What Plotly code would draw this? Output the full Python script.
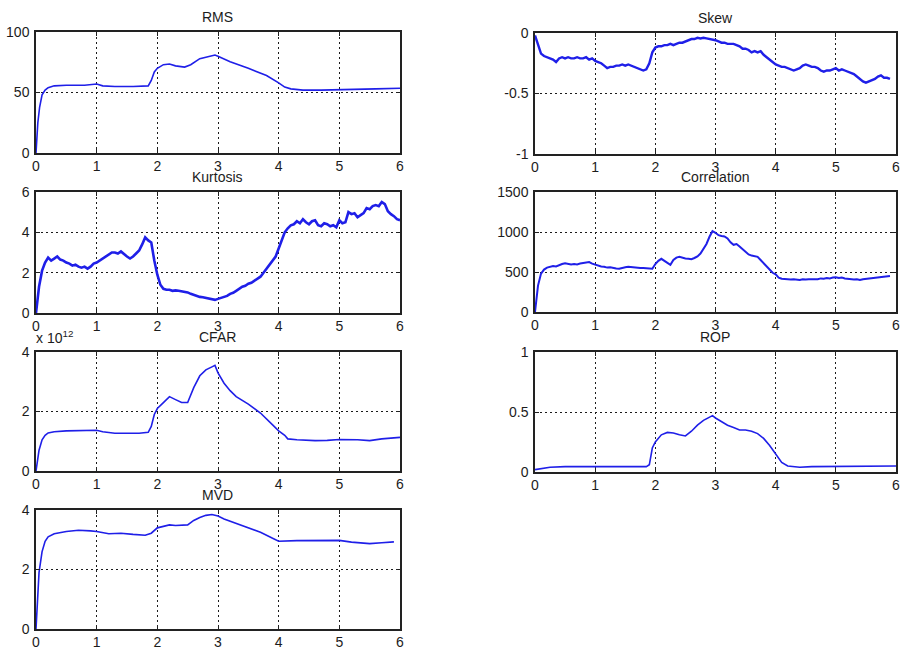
import plotly.graph_objects as go

# ---------------------------------------------------------------------------
# Data (time axis 0..6, seven drilling/vibration features)
# ---------------------------------------------------------------------------

# shared 0.05-step sample grid used by the noisier features
t05 = [0.00, 0.05, 0.10, 0.15, 0.20, 0.25, 0.30, 0.35, 0.40, 0.45,
       0.50, 0.55, 0.60, 0.65, 0.70, 0.75, 0.80, 0.85, 0.90, 0.95,
       1.00, 1.05, 1.10, 1.15, 1.20, 1.25, 1.30, 1.35, 1.40, 1.45,
       1.50, 1.55, 1.60, 1.65, 1.70, 1.75, 1.80, 1.85, 1.90, 1.95,
       2.00, 2.05, 2.10, 2.15, 2.20, 2.25, 2.30, 2.35, 2.40, 2.45,
       2.50, 2.55, 2.60, 2.65, 2.70, 2.75, 2.80, 2.85, 2.90, 2.95,
       3.00, 3.05, 3.10, 3.15, 3.20, 3.25, 3.30, 3.35, 3.40, 3.45,
       3.50, 3.55, 3.60, 3.65, 3.70, 3.75, 3.80, 3.85, 3.90, 3.95,
       4.00, 4.05, 4.10, 4.15, 4.20, 4.25, 4.30, 4.35, 4.40, 4.45,
       4.50, 4.55, 4.60, 4.65, 4.70, 4.75, 4.80, 4.85, 4.90, 4.95,
       5.00, 5.05, 5.10, 5.15, 5.20, 5.25, 5.30, 5.35, 5.40, 5.45,
       5.50, 5.55, 5.60, 5.65, 5.70, 5.75, 5.80, 5.85, 5.90, 5.95,
       6.00]

rms_t = [0, 0.03, 0.06, 0.10, 0.15, 0.20, 0.30, 0.50, 0.80, 1.00, 1.10, 1.30,
         1.60, 1.85, 1.90, 1.95, 2.00, 2.10, 2.20, 2.30, 2.45, 2.55, 2.70,
         2.85, 2.95, 3.00, 3.20, 3.50, 3.80, 4.00, 4.10, 4.20, 4.40, 4.70,
         5.00, 5.30, 5.60, 6.00]
rms = [0, 25, 38, 48, 52, 54, 55.5, 56, 56, 57, 55.5, 55,
       55, 55.5, 60, 67, 70, 73, 73.5, 72, 71, 73, 78,
       79.5, 81, 80, 75.5, 70, 64, 58, 54.5, 53, 52, 52,
       52.5, 52.5, 53, 53.5]

skew = [-0.02, -0.10, -0.17, -0.19, -0.20, -0.21, -0.22, -0.24, -0.21, -0.20,
        -0.21, -0.20, -0.21, -0.21, -0.20, -0.21, -0.21, -0.20, -0.22, -0.21,
        -0.23, -0.24, -0.25, -0.27, -0.29, -0.28, -0.28, -0.27, -0.27, -0.26,
        -0.27, -0.26, -0.27, -0.28, -0.29, -0.30, -0.31, -0.30, -0.25, -0.16,
        -0.12, -0.11, -0.11, -0.10, -0.10, -0.09, -0.10, -0.09, -0.08, -0.08,
        -0.07, -0.06, -0.05, -0.05, -0.04, -0.045, -0.04, -0.045, -0.05, -0.05,
        -0.06, -0.07, -0.08, -0.08, -0.09, -0.09, -0.09, -0.10, -0.11, -0.13,
        -0.13, -0.14, -0.16, -0.15, -0.16, -0.15, -0.18, -0.20, -0.22, -0.24,
        -0.26, -0.27, -0.28, -0.28, -0.29, -0.30, -0.31, -0.30, -0.29, -0.27,
        -0.26, -0.27, -0.28, -0.28, -0.29, -0.31, -0.32, -0.31, -0.31, -0.30,
        -0.29, -0.31, -0.30, -0.31, -0.32, -0.33, -0.34, -0.36, -0.38, -0.40,
        -0.41, -0.40, -0.39, -0.38, -0.36, -0.35, -0.37, -0.37, -0.38]

kurtosis = [0.0, 1.3, 2.1, 2.5, 2.75, 2.6, 2.7, 2.8, 2.65, 2.6,
            2.5, 2.45, 2.35, 2.4, 2.3, 2.25, 2.3, 2.2, 2.3, 2.45,
            2.5, 2.6, 2.7, 2.8, 2.9, 3.0, 3.0, 2.95, 3.05, 2.9,
            2.8, 2.7, 2.8, 2.95, 3.1, 3.4, 3.75, 3.6, 3.5, 2.6,
            1.9, 1.4, 1.2, 1.15, 1.15, 1.1, 1.12, 1.1, 1.08, 1.05,
            1.02, 0.95, 0.9, 0.82, 0.8, 0.78, 0.75, 0.72, 0.7, 0.65,
            0.7, 0.75, 0.8, 0.85, 0.95, 1.0, 1.1, 1.2, 1.3, 1.35,
            1.45, 1.5, 1.6, 1.7, 1.8, 2.0, 2.2, 2.35, 2.6, 2.8,
            3.2, 3.6, 4.0, 4.2, 4.35, 4.4, 4.55, 4.45, 4.65, 4.5,
            4.4, 4.55, 4.6, 4.35, 4.3, 4.45, 4.4, 4.3, 4.35, 4.25,
            4.6, 4.45, 4.5, 5.0, 4.9, 4.95, 4.75, 4.85, 4.95, 5.2,
            5.15, 5.3, 5.35, 5.3, 5.5, 5.4, 5.05, 4.9, 4.8, 4.65,
            4.6]

correlation = [0, 330, 480, 530, 555, 565, 575, 570, 590, 600,
               610, 600, 595, 600, 595, 605, 610, 615, 625, 605,
               590, 580, 570, 565, 555, 560, 550, 545, 540, 555,
               560, 565, 560, 555, 555, 550, 550, 548, 545, 540,
               600, 640, 665, 640, 610, 590, 650, 680, 690, 675,
               670, 665, 660, 675, 695, 730, 790, 850, 940, 1010,
               990, 960, 950, 945, 920, 870, 840, 850, 820, 790,
               750, 720, 705, 700, 690, 650, 610, 570, 530, 490,
               470, 430, 415, 410, 410, 405, 410, 405, 400, 410,
               405, 410, 410, 415, 410, 420, 415, 425, 420, 430,
               435, 425, 430, 420, 415, 410, 405, 410, 400, 410,
               415, 420, 420, 430, 430, 440, 440, 445, 450]

cfar_t = [0, 0.05, 0.10, 0.15, 0.20, 0.30, 0.50, 0.70, 0.90, 1.00, 1.10, 1.30,
          1.50, 1.70, 1.85, 1.90, 1.95, 2.00, 2.10, 2.20, 2.30, 2.40, 2.50,
          2.60, 2.70, 2.80, 2.90, 2.95, 3.00, 3.10, 3.20, 3.30, 3.50, 3.70,
          3.90, 4.00, 4.10, 4.15, 4.30, 4.60, 4.80, 5.00, 5.30, 5.50, 5.70,
          6.00]
cfar_e12 = [0, 0.7, 1.05, 1.2, 1.28, 1.32, 1.35, 1.36, 1.38, 1.37, 1.32, 1.27,
            1.27, 1.27, 1.3, 1.5, 1.9, 2.1, 2.3, 2.5, 2.4, 2.3, 2.3,
            2.8, 3.2, 3.4, 3.5, 3.55, 3.3, 2.95, 2.7, 2.5, 2.25, 1.95,
            1.55, 1.35, 1.2, 1.08, 1.05, 1.02, 1.03, 1.06, 1.05, 1.02, 1.08,
            1.13]

rop_t = [0, 0.10, 0.25, 0.50, 1.00, 1.50, 1.85, 1.90, 1.95, 2.00, 2.10, 2.20,
         2.30, 2.40, 2.50, 2.60, 2.70, 2.80, 2.90, 2.95, 3.00, 3.10, 3.20,
         3.30, 3.40, 3.50, 3.60, 3.70, 3.80, 3.90, 4.00, 4.10, 4.20, 4.40,
         4.60, 5.00, 5.50, 5.80, 6.00]
rop = [0.02, 0.03, 0.04, 0.045, 0.045, 0.045, 0.045, 0.06, 0.2, 0.25, 0.31, 0.33,
       0.325, 0.31, 0.30, 0.34, 0.39, 0.43, 0.46, 0.47, 0.45, 0.42, 0.39,
       0.37, 0.35, 0.35, 0.34, 0.32, 0.28, 0.22, 0.15, 0.08, 0.05, 0.04,
       0.045, 0.045, 0.045, 0.05, 0.05]

mvd_t = [0, 0.02, 0.05, 0.10, 0.15, 0.20, 0.30, 0.50, 0.70, 0.90, 1.00, 1.20,
         1.40, 1.60, 1.80, 1.90, 2.00, 2.20, 2.30, 2.50, 2.60, 2.70, 2.80,
         2.90, 3.00, 3.10, 3.30, 3.50, 3.70, 3.90, 4.00, 4.30, 4.60, 5.00,
         5.20, 5.50, 5.70, 5.90]
mvd = [0, 0.8, 1.9, 2.6, 2.95, 3.1, 3.2, 3.28, 3.32, 3.3, 3.28, 3.2,
       3.22, 3.18, 3.15, 3.22, 3.4, 3.5, 3.48, 3.5, 3.65, 3.75, 3.82,
       3.85, 3.8, 3.7, 3.55, 3.42, 3.25, 3.05, 2.95, 2.97, 2.98, 2.98,
       2.92, 2.87, 2.9, 2.93]

x_ticks = [0, 1, 2, 3, 4, 5, 6]

# ---------------------------------------------------------------------------
# Panel definitions: title, x, y, y range, y ticks, pixel box (l, t, r, b), width
# ---------------------------------------------------------------------------
W, H = 903, 651
panels = [
    ("RMS", rms_t, rms, [0, 100], [0, 50, 100], (36, 32, 400, 153), 1.6),
    ("Kurtosis", t05, kurtosis, [0, 6], [0, 2, 4, 6], (36, 192, 400, 313), 2.6),
    ("CFAR", cfar_t, cfar_e12, [0, 4], [0, 2, 4], (36, 352, 400, 471), 1.6),
    ("MVD", mvd_t, mvd, [0, 4], [0, 2, 4], (36, 510, 400, 629), 1.6),
    ("Skew", t05[:len(skew)], skew, [-1, 0], [-1, -0.5, 0], (535, 33, 896, 154), 2.4),
    ("Correlation", t05[:len(correlation)], correlation, [0, 1500],
     [0, 500, 1000, 1500], (535, 192, 896, 312), 2.0),
    ("ROP", rop_t, rop, [0, 1], [0, 0.5, 1], (535, 352, 896, 472), 1.6),
]

LINE = "#1f1fe8"
INK = "#1c1c1c"
FONT = dict(family="Liberation Sans, Arial, sans-serif", size=14, color=INK)

fig = go.Figure()
layout = dict(
    template="none",
    width=W, height=H, autosize=False,
    margin=dict(l=0, r=0, t=0, b=0, pad=0, autoexpand=False),
    paper_bgcolor="white", plot_bgcolor="white",
    showlegend=False, font=FONT,
)
annotations = []

for i, (title, xs, ys, yr, yt, box, lw) in enumerate(panels, start=1):
    l, t, r, b = box
    xd = [l / W, r / W]
    yd = [1 - b / H, 1 - t / H]
    sfx = "" if i == 1 else str(i)
    fig.add_trace(go.Scatter(
        x=xs, y=ys, mode="lines",
        line=dict(color=LINE, width=lw),
        xaxis="x" + sfx, yaxis="y" + sfx, hoverinfo="skip",
    ))
    common = dict(
        automargin=False,
        showline=True, mirror="ticks", linecolor="#222222", linewidth=1.5,
        showgrid=True, gridcolor="#1a1a1a", gridwidth=1, griddash="2px,3px",
        zeroline=False, ticks="inside", ticklen=4, tickcolor="#222222",
        tickfont=FONT, fixedrange=True,
    )
    layout["xaxis" + sfx] = dict(
        common, domain=xd, anchor="y" + sfx, range=[0, 6],
        tickvals=x_ticks, ticktext=[str(v) for v in x_ticks],
        ticklabelstandoff=-1,
    )
    layout["yaxis" + sfx] = dict(
        common, domain=yd, anchor="x" + sfx, range=yr,
        tickvals=yt, ticktext=[f"{v:g}" for v in yt],
        ticklabelstandoff=2,
    )
    annotations.append(dict(
        text=title, x=(xd[0] + xd[1]) / 2, y=yd[1], xref="paper", yref="paper",
        xanchor="center", yanchor="bottom", yshift=5, showarrow=False, font=FONT,
    ))

# exponent label for the CFAR axis
annotations.append(dict(
    text="x 10<sup>12</sup>", x=34 / W, y=1 - 352 / H, xref="paper", yref="paper",
    xanchor="left", yanchor="bottom", yshift=4, showarrow=False,
    font=dict(family=FONT["family"], size=14, color=INK),
))

layout["annotations"] = annotations
fig.update_layout(**layout)
fig.write_html("out.html")
